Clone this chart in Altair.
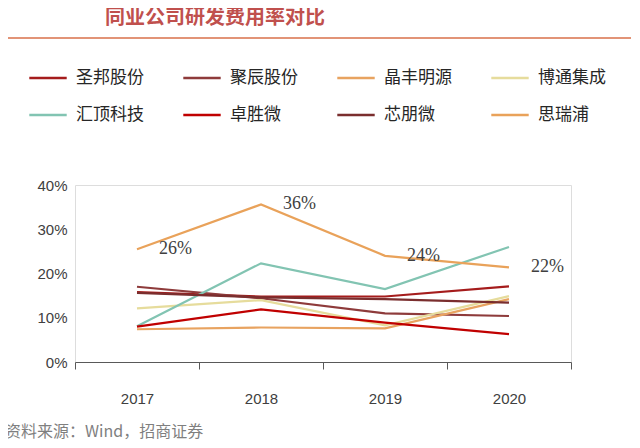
import altair as alt
import pandas as pd

years = ["2017", "2018", "2019", "2020"]
companies = ["圣邦股份", "聚辰股份", "晶丰明源", "博通集成", "汇顶科技", "卓胜微", "芯朋微", "思瑞浦"]
values = {
    "圣邦股份": [15.8, 14.8, 14.8, 17.1],
    "聚辰股份": [17.0, 14.4, 11.0, 10.4],
    "晶丰明源": [7.4, 7.8, 7.6, 14.2],
    "博通集成": [12.1, 14.0, 8.3, 14.9],
    "汇顶科技": [8.1, 22.3, 16.5, 26.0],
    "卓胜微": [8.0, 11.9, 8.9, 6.3],
    "芯朋微": [15.6, 14.6, 14.2, 13.4],
    "思瑞浦": [25.5, 35.6, 24.0, 21.4],
}
colors = ["#A51C1C", "#8E3B3B", "#E8A360", "#E6DC9C", "#82C4B2", "#C00000", "#7A2E2E", "#E9A25A"]
label_vals = ["26%", "36%", "24%", "22%"]

# legend fills column by column: reorder so rows read like the reference
legend_order = [companies[i] for i in [0, 4, 1, 5, 2, 6, 3, 7]]
legend_colors = [colors[i] for i in [0, 4, 1, 5, 2, 6, 3, 7]]

rows = []
for c in companies:
    for y, v in zip(years, values[c]):
        rows.append({"year": y, "company": c, "rate": v / 100})
df = pd.DataFrame(rows)
lab = pd.DataFrame({"year": years, "rate": [v / 100 for v in values["思瑞浦"]], "t": label_vals})

font = "Liberation Sans"
x = alt.X("year:N", title=None, sort=years,
          scale=alt.Scale(paddingInner=0, paddingOuter=0),
          axis=alt.Axis(labelAngle=0, tickBand="extent", labelFontSize=15, labelColor="#404040",
                        labelPadding=22, domainColor="#595959", tickColor="#595959", tickSize=7,
                        labelFont=font))
y = alt.Y("rate:Q", title=None, scale=alt.Scale(domain=[0, 0.4]),
          axis=alt.Axis(format=".0%", values=[0, 0.1, 0.2, 0.3, 0.4], grid=False,
                        domain=False, ticks=False, labelFontSize=15, labelColor="#404040",
                        labelPadding=8, labelFont=font))

lines = alt.Chart(df).mark_line(strokeWidth=2.2).encode(
    x=x, y=y,
    color=alt.Color("company:N", sort=legend_order,
                    scale=alt.Scale(domain=legend_order, range=legend_colors),
                    legend=alt.Legend(title=None, orient="none", legendX=-47, legendY=-127,
                                      columns=4, symbolType="stroke", symbolSize=1400,
                                      symbolStrokeWidth=2.5, labelFontSize=17, labelColor="#262626",
                                      columnPadding=34, rowPadding=9, labelOffset=8,
                                      labelFont="Noto Sans CJK SC")),
)
texts = alt.Chart(lab).mark_text(align="left", dx=22, fontSize=18, color="#404040",
                                 font="Liberation Sans Narrow").encode(x=x, y=y, text="t:N")

title = alt.Chart(pd.DataFrame({"t": ["同业公司研发费用率对比"]})).mark_text(
    align="left", baseline="middle", fontSize=20, fontWeight="bold", color="#C0504D",
    font="Noto Sans CJK SC").encode(x=alt.value(30), y=alt.value(-167), text="t:N")
rule = alt.Chart(pd.DataFrame({"a": [0]})).mark_rule(color="#D9704A", strokeWidth=1.5).encode(
    x=alt.value(-67), x2=alt.value(557), y=alt.value(-147))
source = alt.Chart(pd.DataFrame({"t": ["资料来源：Wind，招商证券"]})).mark_text(
    align="left", baseline="middle", fontSize=16, color="#7F7F7F",
    font="Noto Sans CJK SC").encode(x=alt.value(-70), y=alt.value(247), text="t:N")

chart = alt.layer(lines, texts, title, rule, source).properties(
    width=496, height=177,
    autosize=alt.AutoSizeParams(type="none"),
    padding={"left": 67, "top": 177, "right": 60, "bottom": 86},
).configure_view(stroke=None).configure(background="white")

chart.save("out.html", embed_options={"renderer": "svg", "actions": False})
